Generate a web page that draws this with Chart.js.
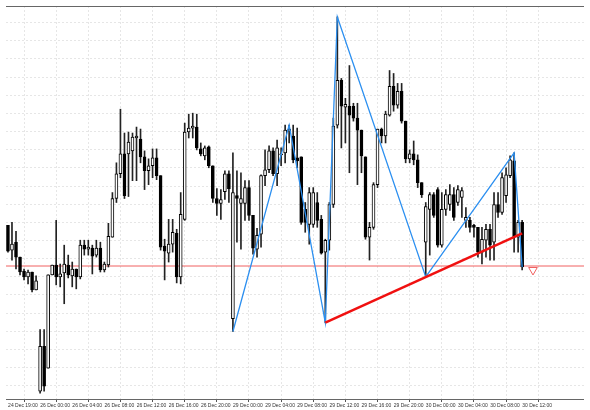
<!DOCTYPE html>
<html>
<head>
<meta charset="utf-8">
<script src="https://cdn.jsdelivr.net/npm/chart.js@4.4.0/dist/chart.umd.min.js"></script>
<style>
  html, body { margin: 0; padding: 0; background: #fff; }
  #wrap { width: 590px; height: 410px; }
</style>
</head>
<body>
<div id="wrap"><canvas id="myChart"></canvas></div>
<script>
// 30 minute candles, index 0 = 24 Dec 19:00
const open  = [180,155,163,148,134,128,133,115,13,58,36,130,140,128,132,140,129,136,128,160,156,157,150,157,135,140,168,207,232,252,252,255,268,267,249,235,240,248,230,159,152,161,172,128,186,274,278,279,257,250,259,240,207,202,214,232,86,210,202,202,218,190,156,171,230,236,255,232,251,253,275,270,248,249,196,181,181,203,186,153,165,201,281,326,299,300,300,288,276,249,168,178,221,277,270,291,320,301,315,285,247,252,246,223,163,196,211,216,160,196,201,211,203,208,185,185,180,178,153,165,176,163,201,193,210,230,245,168,183];
const close = [154,161,148,133,128,133,115,124,58,18,130,140,128,131,141,130,136,128,160,156,158,149,157,135,141,169,207,232,252,210,264,269,270,249,235,240,248,230,158,154,161,173,128,191,274,278,280,258,252,258,240,207,202,206,232,217,213,207,207,218,190,157,170,230,236,255,232,258,252,276,277,246,245,183,183,213,213,185,152,165,201,280,326,300,302,291,288,276,250,168,178,221,277,270,292,320,301,315,285,247,252,246,223,211,199,211,190,160,196,211,211,188,216,215,188,178,178,153,166,176,160,201,193,228,231,246,168,183,138];
const high  = [180,183,174,148,136,135,133,129,75,75,130,140,185,141,160,150,143,136,165,165,165,160,165,163,143,182,213,243,297,273,274,273,279,277,255,247,257,257,230,166,186,186,176,213,283,292,293,292,263,260,260,240,217,216,235,235,253,235,233,225,225,190,177,231,256,260,258,266,258,281,281,281,278,249,203,218,218,213,190,166,203,288,390,328,308,341,303,303,276,249,183,223,277,278,295,336,333,323,323,285,256,265,251,223,203,213,213,218,213,216,221,218,220,218,198,188,181,178,178,181,181,213,213,233,238,250,253,185,185];
const low   = [153,145,136,130,125,121,113,115,11,13,36,130,120,118,101,127,118,116,126,150,150,131,148,133,133,138,168,203,228,207,209,225,225,243,216,221,228,226,155,125,143,153,122,121,185,268,268,256,250,246,238,203,190,186,206,203,73,163,156,185,185,151,148,158,220,233,230,220,240,243,263,243,238,181,173,161,178,178,151,82,155,198,278,258,263,233,285,221,233,166,145,176,218,263,263,290,295,298,283,243,243,241,218,208,128,150,188,158,158,190,195,185,200,188,178,173,168,148,141,148,145,145,188,191,203,228,153,153,135];

const tickLabels = ["24 Dec 19:00","26 Dec 00:00","26 Dec 04:00","26 Dec 08:00","26 Dec 12:00","26 Dec 16:00","26 Dec 20:00","29 Dec 00:00","29 Dec 04:00","29 Dec 08:00","29 Dec 12:00","29 Dec 16:00","29 Dec 20:00","30 Dec 00:00","30 Dec 04:00","30 Dec 08:00","30 Dec 12:00"];

// zigzag turning points (bar index, price)
const zigzagBars   = [56, 70, 79, 82, 104, 126, 128];
const zigzagPrices = [73, 281, 82, 390, 128, 253, 138];
const trendBars   = [79, 128];
const trendPrices = [82, 172];
const levelPrice = 139;
const arrowBar = 130.7, arrowPrice = 135;

const wicks = [], bodies = [], bodyFill = [];
for (let i = 0; i < open.length; i++) {
  wicks.push({ x: i, y: [low[i], high[i]] });
  bodies.push({ x: i, y: [open[i], close[i]] });
  bodyFill.push(close[i] >= open[i] ? "#ffffff" : "#000000");
}

// solid top and bottom frame lines
const frame = {
  id: "frame",
  afterDraw(chart) {
    const a = chart.chartArea, ctx = chart.ctx;
    ctx.save();
    ctx.strokeStyle = "#666";
    ctx.lineWidth = 1;
    ctx.beginPath();
    ctx.moveTo(a.left, a.top + 0.5);
    ctx.lineTo(a.right, a.top + 0.5);
    ctx.moveTo(a.left, a.bottom + 0.5);
    ctx.lineTo(a.right, a.bottom + 0.5);
    ctx.stroke();
    ctx.restore();
  }
};

const config = {
  data: {
    datasets: [
      { type: "line", data: [{ x: -2, y: levelPrice }, { x: 145, y: levelPrice }],
        borderColor: "#f06060", borderWidth: 1, pointRadius: 0, order: 5 },
      { type: "bar", data: wicks, backgroundColor: "#222", barThickness: 1,
        grouped: false, order: 4 },
      { type: "bar", data: bodies, backgroundColor: bodyFill, borderColor: "#000",
        borderWidth: 1, borderSkipped: false, barThickness: 3, minBarLength: 1,
        grouped: false, order: 3 },
      { type: "line", data: zigzagBars.map((b, i) => ({ x: b, y: zigzagPrices[i] })),
        borderColor: "#2b8ff0", borderWidth: 1.3, pointRadius: 0, order: 1 },
      { type: "line", data: trendBars.map((b, i) => ({ x: b, y: trendPrices[i] })),
        borderColor: "#f01010", borderWidth: 2.5, pointRadius: 0, order: 0 },
      { type: "scatter", data: [{ x: arrowBar, y: arrowPrice }],
        pointStyle: "triangle", rotation: 180, pointRadius: 5,
        borderColor: "#f06060", backgroundColor: "#fff", borderWidth: 1, order: 0 }
    ]
  },
  options: {
    animation: false,
    responsive: false,
    maintainAspectRatio: false,
    layout: { padding: { top: 1, left: -6, right: 0, bottom: 0 } },
    plugins: { legend: { display: false }, tooltip: { enabled: false } },
    scales: {
      x: {
        type: "linear", min: -0.49, max: 143.4, offset: false,
        afterBuildTicks: (s) => { s.ticks = tickLabels.map((t, i) => ({ value: i * 8 })); },
        afterFit: (s) => { s.paddingLeft = 0; s.paddingRight = 0; },
        ticks: {
          callback: (v) => tickLabels[v / 8],
          font: { family: "Liberation Sans", size: 5 }, color: "#333",
          maxRotation: 0, autoSkip: false, labelOffset: 15, padding: 1
        },
        grid: { color: "#e6e6e6", tickLength: 3, tickColor: "#555" },
        border: { display: false, dash: [2, 2] }
      },
      y: {
        min: 5, max: 401,
        afterBuildTicks: (s) => {
          const t = [];
          for (let v = 18.3; v < 401; v += 18.3) t.push({ value: v });
          s.ticks = t;
        },
        afterFit: (s) => { s.width = 0; },
        ticks: { display: false },
        grid: { color: "#e6e6e6", drawTicks: false },
        border: { display: false, dash: [2, 2] }
      }
    }
  },
  plugins: [frame]
};

const c = document.getElementById("myChart");
c.width = 590; c.height = 410;
const myChart = new Chart(c, config);
</script>
</body>
</html>
